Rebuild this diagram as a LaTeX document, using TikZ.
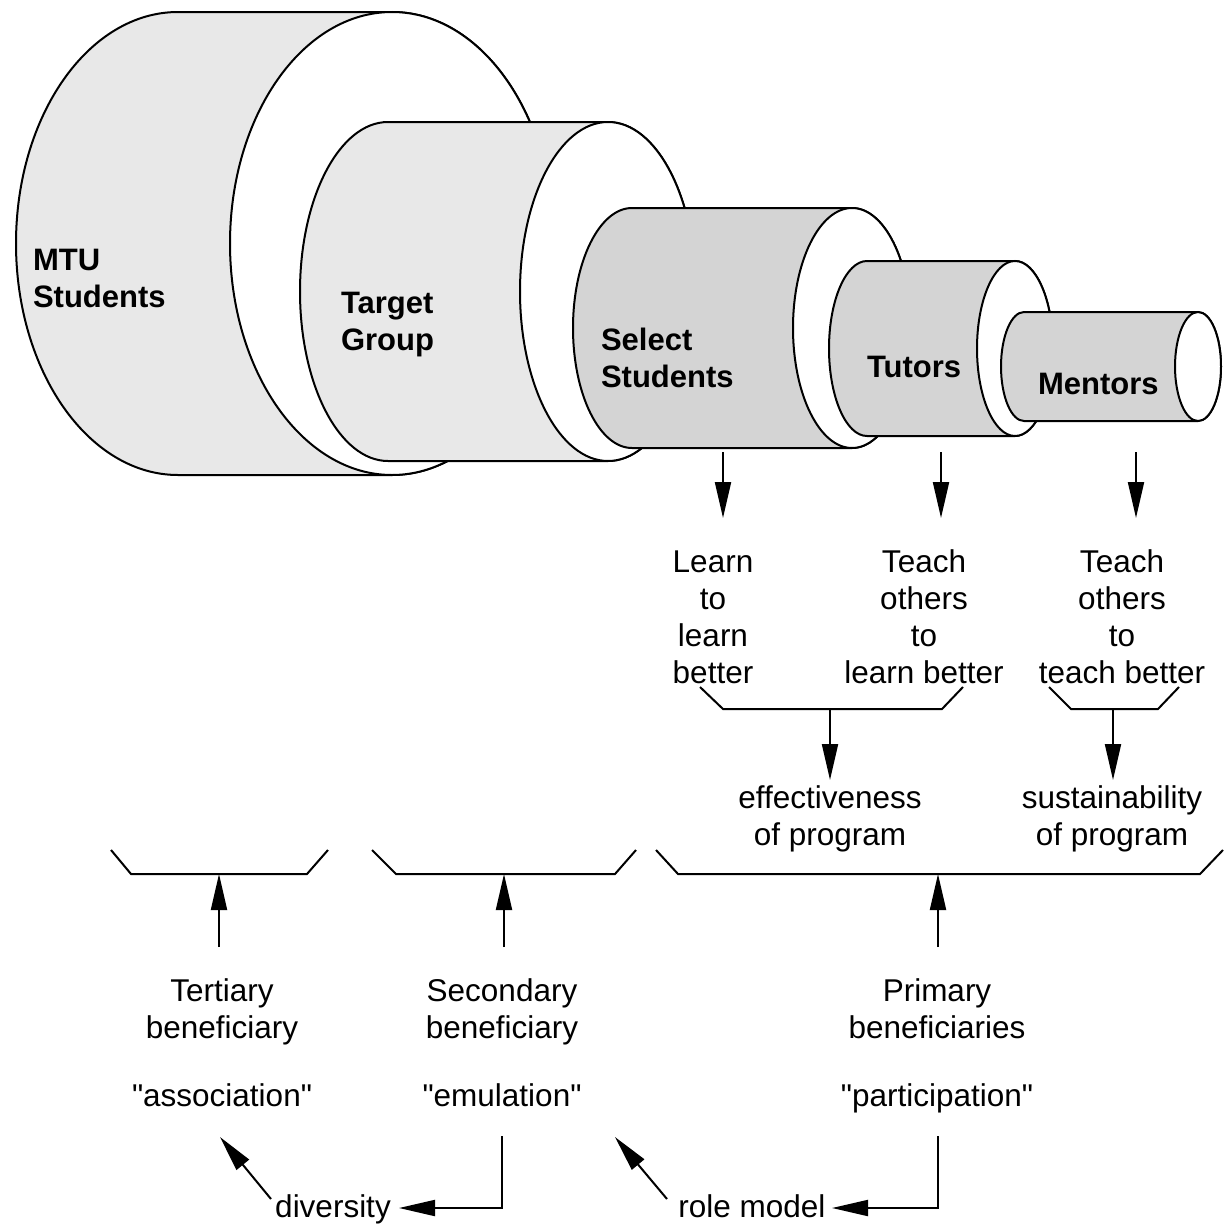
\documentclass[tikz,border=0pt]{standalone}
\usepackage{fontspec}
\setmainfont{Liberation Sans}
\font\qfont="Liberation Sans" at 31.5pt
\newcommand\dq{{\qfont\symbol{34}}}
\usetikzlibrary{arrows.meta}
\newcommand\mycyl[6]{%
  \filldraw[fill=#6] (#1,#3-#5) arc[start angle=270,end angle=90,x radius=#4,y radius=#5]
     -- (#2,#3+#5) arc[start angle=90,end angle=-90,x radius=#4,y radius=#5] -- cycle;
  \filldraw[fill=white] (#2,#3) ellipse[x radius=#4,y radius=#5];}
\begin{document}
\begin{tikzpicture}[x=1pt,y=-1pt,line width=2pt,
  lbl/.style={anchor=base west,inner sep=0pt,align=left,font=\fontsize{31}{37}\selectfont\bfseries},
  txt/.style={anchor=base,inner sep=0pt,align=center,font=\fontsize{31.5}{37}\selectfont},
  arr/.style={-{Triangle[length=36pt,width=16pt]}},
  brk/.style={line join=miter}]
\useasboundingbox (0,0) rectangle (1225,1226);
\colorlet{lightdots}{black!9}
\colorlet{darkdots}{black!17}
% cylinders
\mycyl{178}{392}{243.5}{162}{231.5}{lightdots}
\mycyl{388}{608}{291.5}{88}{169.5}{lightdots}
\mycyl{632}{852}{328}{59}{120}{darkdots}
\mycyl{867}{1015}{348.5}{38}{87.5}{darkdots}
\mycyl{1024}{1198}{366.5}{23}{54.5}{darkdots}
% labels (base anchor = last line)
\node[lbl] (mtu) at (32,307) {MTU\\Students};
\node[lbl] (tg) at (340,350) {Target\\Group};
\node[lbl] (ss) at (600,387) {Select\\Students};
\node[lbl] (tu) at (866,377) {Tutors};
\node[lbl] (me) at (1037,394) {Mentors};
% texts
\node[txt] (l1) at (713,683) {Learn\\to\\learn\\better};
\node[txt] (l2) at (924,683) {Teach\\others\\to\\learn better};
\node[txt] (l3) at (1122,683) {Teach\\others\\to\\teach better};
\node[txt] (eff) at (830,845) {effectiveness\\of program};
\node[txt] (sus) at (1112,845) {sustainability\\of program};
\node[txt] (ter) at (222,1038) {Tertiary\\beneficiary};
\node[txt] (sec) at (502,1038) {Secondary\\beneficiary};
\node[txt] (pri) at (937,1038) {Primary\\beneficiaries};
\node[txt] (ass) at (222,1106) {\dq association\dq};
\node[txt] (emu) at (502,1106) {\dq emulation\dq};
\node[txt] (par) at (937,1106) {\dq participation\dq};
\node[txt] (div) at (333,1217) {diversity};
\node[txt] (rol) at (752,1217) {role model};
% arrows from cylinders
\coordinate (s1) at (723,452); \coordinate (t1) at (723,518);
\coordinate (s2) at (941,452); \coordinate (t2) at (941,518);
\coordinate (s3) at (1136,452); \coordinate (t3) at (1136,518);
\draw[arr] (s1) -- (t1);
\draw[arr] (s2) -- (t2);
\draw[arr] (s3) -- (t3);
% upper brackets
\coordinate (ba) at (830,709); \coordinate (bat) at (830,780);
\coordinate (bb) at (1113,709); \coordinate (bbt) at (1113,780);
\draw[brk] (700,687) -- (723,709) -- (942,709) -- (963,687);
\draw[brk] (1049,687) -- (1071,709) -- (1158,709) -- (1179,687);
\draw[arr] (ba) -- (bat);
\draw[arr] (bb) -- (bbt);
% lower brackets
\draw[brk] (111,850) -- (131,874) -- (307,874) -- (328,850);
\draw[brk] (372,850) -- (396,874) -- (615,874) -- (636,850);
\draw[brk] (656,850) -- (678,874) -- (1200,874) -- (1223,850);
\coordinate (ua) at (219,947); \coordinate (uat) at (219,874);
\coordinate (ub) at (504,947); \coordinate (ubt) at (504,874);
\coordinate (uc) at (938,947); \coordinate (uct) at (938,874);
\draw[arr] (ua) -- (uat);
\draw[arr] (ub) -- (ubt);
\draw[arr] (uc) -- (uct);
% bottom arrows
\coordinate (d1) at (271,1199); \coordinate (d1t) at (220,1137);
\coordinate (d2) at (667,1199); \coordinate (d2t) at (615,1137);
\draw[arr] (d1) -- (d1t);
\draw[arr] (d2) -- (d2t);
\coordinate (e1) at (502,1136); \coordinate (e1t) at (399,1208);
\coordinate (p1) at (938,1136); \coordinate (p1t) at (832,1208);
\draw[arr] (e1) |- (e1t);
\draw[arr] (p1) |- (p1t);
\end{tikzpicture}
\end{document}
